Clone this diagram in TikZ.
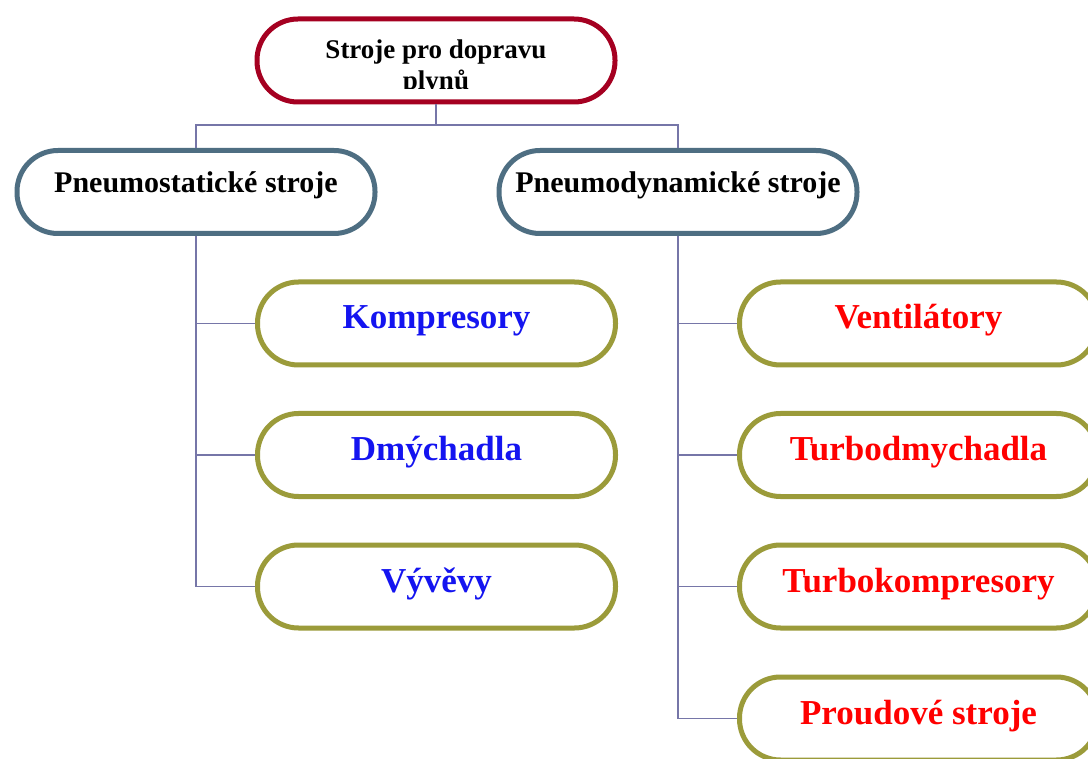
\documentclass[tikz,border=0pt]{standalone}
\usepackage{fontspec}
\setmainfont{Liberation Serif}
\begin{document}
\definecolor{rootline}{HTML}{A50021}
\definecolor{groupline}{HTML}{4E6E82}
\definecolor{leafline}{HTML}{9B9B3A}
\definecolor{wire}{HTML}{7676A8}
\definecolor{leafblue}{HTML}{1414F0}
\definecolor{leafred}{HTML}{FF0000}
\begin{tikzpicture}[x=1pt,y=-1pt,
  pill/.style={rectangle, rounded corners=41pt, line width=5pt, fill=white,
    inner sep=0pt, minimum width=358pt, minimum height=83pt, align=center},
  rootbox/.style={pill, draw=rootline},
  groupbox/.style={pill, draw=groupline, font=\bfseries\fontsize{30}{36}\selectfont,
    text height=12pt, text depth=10pt},
  leafbox/.style={pill, draw=leafline, font=\bfseries\fontsize{35}{42}\selectfont,
    text height=16pt, text depth=5pt},
  blueleaf/.style={leafbox, text=leafblue},
  redleaf/.style={leafbox, text=leafred},
  roottext/.style={anchor=base, inner sep=0pt, font=\bfseries\fontsize{27}{31}\selectfont},
  wireline/.style={draw=wire, line width=1.5pt}
]
\clip (0,0) rectangle (1088,759);
\fill[white] (0,0) rectangle (1088,759);

% root
\node[rootbox] (root) at (436,60.5) {};
\begin{scope}
  \clip (260,20) rectangle (612,89);
  \node[roottext] (rootA) at (436,59) {Stroje pro dopravu};
  \node[roottext] (rootB) at (436,90) {plynů};
\end{scope}

% groups
\node[groupbox] (stat) at (196,192) {Pneumostatické stroje};
\node[groupbox] (dyn) at (678,192) {Pneumodynamické stroje};

% leaves
\node[blueleaf] (komp) at (436.5,323.5) {Kompresory};
\node[blueleaf] (dmy) at (436.5,455) {Dmýchadla};
\node[blueleaf] (vyv) at (436.5,586.5) {Vývěvy};

\node[redleaf] (vent) at (918.5,323.5) {Ventilátory};
\node[redleaf] (tdm) at (918.5,455) {Turbodmychadla};
\node[redleaf] (tko) at (918.5,586.5) {Turbokompresory};
\node[redleaf] (prou) at (918.5,718.5) {Proudové stroje};

% connectors
\coordinate (bus) at (436,125);
\draw[wireline] (root.south) -- (bus);
\draw[wireline] (bus) -| (stat.north);
\draw[wireline] (bus) -| (dyn.north);
\draw[wireline] (stat.south) |- (komp.west);
\draw[wireline] (stat.south) |- (dmy.west);
\draw[wireline] (stat.south) |- (vyv.west);
\draw[wireline] (dyn.south) |- (vent.west);
\draw[wireline] (dyn.south) |- (tdm.west);
\draw[wireline] (dyn.south) |- (tko.west);
\draw[wireline] (dyn.south) |- (prou.west);
\end{tikzpicture}
\end{document}
